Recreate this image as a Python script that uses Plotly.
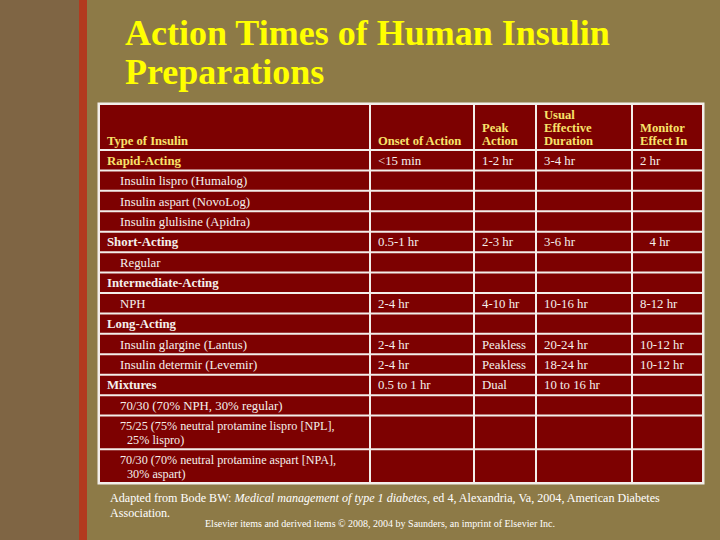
import html
import plotly.graph_objects as go

# ---------------- data ----------------
title_lines = ["Action Times of Human Insulin", "Preparations"]

header_labels = [
    "Type of Insulin",
    "Onset of Action",
    "Peak<br>Action",
    "Usual<br>Effective<br>Duration",
    "Monitor<br>Effect In",
]

insulin_types = [
    "Rapid-Acting",
    "Insulin lispro (Humalog)",
    "Insulin aspart (NovoLog)",
    "Insulin glulisine (Apidra)",
    "Short-Acting",
    "Regular",
    "Intermediate-Acting",
    "NPH",
    "Long-Acting",
    "Insulin glargine (Lantus)",
    "Insulin determir (Levemir)",
    "Mixtures",
    "70/30 (70% NPH, 30% regular)",
    "75/25 (75% neutral protamine lispro [NPL],<br>25% lispro)",
    "70/30 (70% neutral protamine aspart [NPA],<br>30% aspart)",
]
row_kind = ["group", "item", "item", "item", "group", "item", "group", "item",
            "group", "item", "item", "group", "item", "item", "item"]
onset = ["<15 min", "", "", "", "0.5-1 hr", "", "", "2-4 hr", "", "2-4 hr",
         "2-4 hr", "0.5 to 1 hr", "", "", ""]
peak = ["1-2 hr", "", "", "", "2-3 hr", "", "", "4-10 hr", "", "Peakless",
        "Peakless", "Dual", "", "", ""]
duration = ["3-4 hr", "", "", "", "3-6 hr", "", "", "10-16 hr", "", "20-24 hr",
            "18-24 hr", "10 to 16 hr", "", "", ""]
monitor = ["2 hr", "", "", "", "\u00a0\u00a0\u00a04 hr", "", "", "8-12 hr", "",
           "10-12 hr", "10-12 hr", "", "", "", ""]

footer_source = ("Adapted from Bode BW: <i>Medical management of type 1 diabetes,</i> "
                 "ed 4, Alexandria, Va, 2004, American Diabetes")
footer_source2 = "Association."
footer_copyright = ("Elsevier items and derived items \u00a9 2008, 2004 by Saunders, "
                    "an imprint of Elsevier Inc.")

# ---------------- layout constants ----------------
W, H = 720, 540
COL_W = [271, 104, 62, 96, 71]
X0, Y0 = 99, 104
HEADER_H = 46
ROW_H = 20.43
EXTRA_LINE_H = 13.3
LINE_STEP = 14
HEADER_STEP = 13
PAD = 7
INDENT = 13
WRAP_INDENT = 7

BG = "#8D7A47"
CELL = "#7D0101"
GRID = "#F3EEEA"
YELLOW_HDR = "#F8E36A"
TEXT = "#F4F0EC"
FONT = "Liberation Serif, Times New Roman, serif"

columns = [insulin_types, onset, peak, duration, monitor]

# column boundaries
xb = [X0]
for w in COL_W:
    xb.append(xb[-1] + w)

# row boundaries
yb = [Y0, Y0 + HEADER_H]
for t in insulin_types:
    n_lines = t.count("<br>") + 1
    yb.append(yb[-1] + ROW_H + (n_lines - 1) * EXTRA_LINE_H)

shapes = []
annotations = []

# slide background decorations
shapes.append(dict(type="rect", xref="x", yref="y", x0=0, x1=79, y0=0, y1=H,
                   fillcolor="#7F6544", line=dict(width=0), layer="below"))
shapes.append(dict(type="rect", xref="x", yref="y", x0=79, x1=87, y0=0, y1=H,
                   fillcolor="#B23A1F", line=dict(width=0), layer="below"))

# table frame
shapes.append(dict(type="rect", xref="x", yref="y", x0=xb[0] - 1.5, x1=xb[-1] + 1.5,
                   y0=yb[0] - 1.5, y1=yb[-1] + 1.5, fillcolor=GRID,
                   line=dict(width=0), layer="below"))
# cells
for r in range(len(yb) - 1):
    for c in range(len(xb) - 1):
        shapes.append(dict(type="rect", xref="x", yref="y",
                           x0=xb[c] + 1, x1=xb[c + 1] - 1,
                           y0=yb[r] + 1, y1=yb[r + 1] - 1,
                           fillcolor=CELL, line=dict(width=0), layer="below"))


def add_text(x, y, text, size, color, bold=False):
    annotations.append(dict(
        x=x, y=y, xref="x", yref="y", xanchor="left", yanchor="middle",
        text=text, showarrow=False, borderpad=0,
        font=dict(family=FONT, size=size, color=color,
                  weight="bold" if bold else "normal"),
    ))


# header texts (bottom aligned)
for c, lab in enumerate(header_labels):
    lines = lab.split("<br>")
    bottom = yb[1] - 9
    for i, ln in enumerate(lines):
        y = bottom - (len(lines) - 1 - i) * HEADER_STEP
        add_text(xb[c] + PAD, y, ln, 12.6, YELLOW_HDR, bold=True)

# body texts (vertically centred)
for r in range(len(insulin_types)):
    top, bot = yb[r + 1], yb[r + 2]
    mid = (top + bot) / 2 + 0.5
    for c, col in enumerate(columns):
        val = col[r]
        if not val:
            continue
        lines = val.split("<br>")
        for i, ln in enumerate(lines):
            y = mid + (i - (len(lines) - 1) / 2) * LINE_STEP
            x = xb[c] + PAD
            bold = False
            color = TEXT
            size = 12.8 if len(lines) == 1 else 12.2
            if c == 0:
                if row_kind[r] == "group":
                    bold = True
                    color = YELLOW_HDR if r == 0 else TEXT
                else:
                    x += INDENT
                    if i > 0:
                        x += WRAP_INDENT
            add_text(x, y, html.escape(ln), size, color, bold)

# title
add_text(124, 33, title_lines[0], 36, "#FFFF00", bold=True)
add_text(124, 72, title_lines[1], 36, "#FFFF00", bold=True)

# footer
add_text(109, 498, footer_source, 12.1, "#FFFFFF")
add_text(109, 512.5, footer_source2, 12.1, "#FFFFFF")
add_text(204, 523, footer_copyright, 10, "#FFFFFF")

fig = go.Figure()
fig.add_trace(go.Scatter(x=[], y=[], mode="markers", hoverinfo="skip",
                         showlegend=False))
fig.update_layout(
    width=W, height=H,
    margin=dict(l=0, r=0, t=0, b=0),
    paper_bgcolor=BG, plot_bgcolor=BG,
    xaxis=dict(range=[0, W], visible=False, fixedrange=True),
    yaxis=dict(range=[H, 0], visible=False, fixedrange=True),
    shapes=shapes,
    annotations=annotations,
    showlegend=False,
    hovermode=False,
)

fig.write_html(
    "out.html",
    config={"displayModeBar": False},
    post_script="document.body.style.margin='0';document.body.style.overflow='hidden';",
)
